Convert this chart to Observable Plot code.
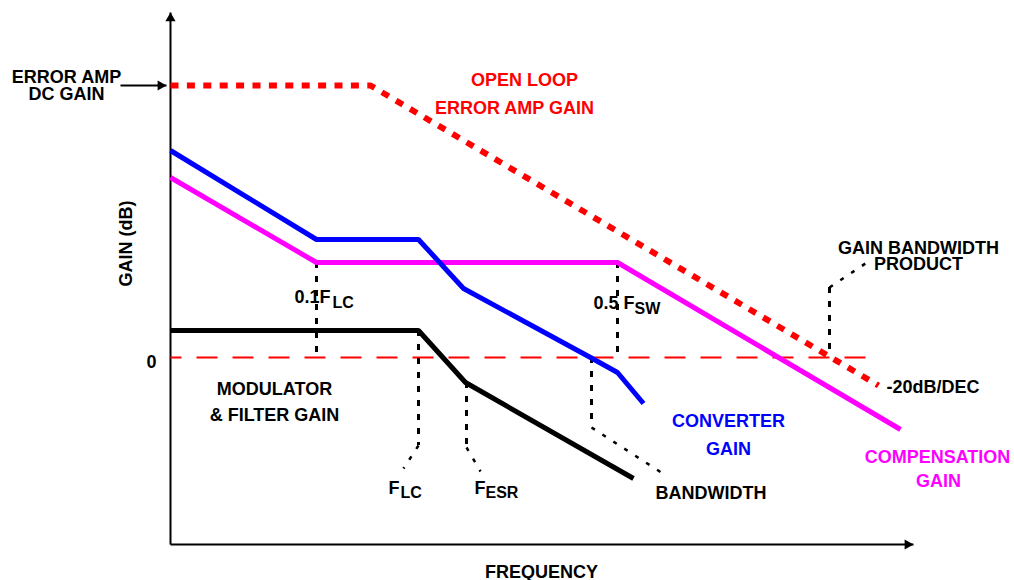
<!DOCTYPE html>
<html>
<head>
<meta charset="utf-8">
<script src="https://cdn.jsdelivr.net/npm/d3@7"></script>
<script src="https://cdn.jsdelivr.net/npm/@observablehq/plot@0.6"></script>
<style>
  html, body { margin: 0; padding: 0; background: #fff; overflow: hidden; }
</style>
</head>
<body>
<div id="chart"></div>
<script>
// Schematic Bode plot: x = log-frequency position (arbitrary decades), y = gain (dB)
const errorAmpF = [0, 2.0, 7.08];
const errorAmpG = [54.4, 54.4, -5.6];

const converterF = [0, 1.46, 2.48, 2.93, 4.2, 4.47, 4.73];
const converterG = [41.4, 23.6, 23.6, 13.8, 0, -3, -9.2];

const compensationF = [0, 1.46, 4.47, 7.30];
const compensationG = [36, 19, 19, -14.4];

const modulatorF = [0, 2.48, 2.95, 4.63];
const modulatorG = [5.4, 5.4, -5, -24.2];

const zeroLineF = [0, 6.95];

// Marker frequencies (0.1 FLC, FLC, FESR, bandwidth, 0.5 FSW, GBP)
const markerF = [1.46, 2.48, 2.96, 4.21, 4.47, 6.59];
const markerTop = [19, 5.4, -5, 0, 19, 14];
const markerBottom = [0, -17.6, -18, -14, 0, 1.4];

// Leader lines from markers to their labels
const leaderF1 = [2.48, 2.96, 4.21, 6.59];
const leaderG1 = [-17.6, -18, -14, 14];
const leaderF2 = [2.33, 3.10, 4.97, 6.95];
const leaderG2 = [-22.2, -22.8, -23.8, 18.8];

// Axis extents
const axisF = [0, 7.43];
const axisG = [-37.4, 69];

// Labels
const centerText = ["ERROR AMP", "DC GAIN", "MODULATOR", "& FILTER GAIN", "GAIN BANDWIDTH", "PRODUCT", "FREQUENCY", "0"];
const centerF = [-1.04, -1.04, 1.04, 1.04, 7.48, 7.48, 3.71, -0.19];
const centerG = [55, 51.6, -7.4, -12.6, 20.8, 17.6, -44, -2];

const startText = ["0.1F", "0.5 F", "F", "F", "BANDWIDTH", "-20dB/DEC"];
const startF = [1.24, 4.23, 2.18, 3.04, 4.85, 7.16];
const startG = [11, 9.8, -27.2, -27.2, -28.2, -7];

const subText = ["LC", "SW", "LC", "ESR"];
const subF = [1.62, 4.64, 2.30, 3.15];
const subG = [10, 8.8, -28, -28];

const redText = ["OPEN LOOP", "ERROR AMP GAIN"];
const redF = [3.54, 3.44];
const redG = [54.4, 48.8];

const blueText = ["CONVERTER", "GAIN"];
const blueF = [5.58, 5.58];
const blueG = [-13.8, -19.4];

const magentaText = ["COMPENSATION", "GAIN"];
const magentaF = [7.67, 7.68];
const magentaG = [-21, -25.8];

const yLabel = ["GAIN (dB)"];
const yLabelF = [-0.44];
const yLabelG = [22.8];

const dcArrowF = [-0.5, -0.04];
const dcArrowG = 54.4;

// ---- build tables ----
const pts = (fs, gs) => fs.map((f, i) => ({f, g: gs[i]}));
const labels = (ts, fs, gs) => ts.map((t, i) => ({t, f: fs[i], g: gs[i]}));

const errorAmp = pts(errorAmpF, errorAmpG);
const converter = pts(converterF, converterG);
const compensation = pts(compensationF, compensationG);
const modulator = pts(modulatorF, modulatorG);
const zeroLine = zeroLineF.map(f => ({f, g: 0}));
const markers = markerF.map((f, i) => ({f, top: markerTop[i], bottom: markerBottom[i]}));
const leaders = leaderF1.map((f, i) => ({f1: f, g1: leaderG1[i], f2: leaderF2[i], g2: leaderG2[i]}));

const font = "'Liberation Sans', Arial, Helvetica, sans-serif";
const textBase = {x: "f", y: "g", text: "t", fontSize: 18, fontWeight: "bold", lineAnchor: "bottom"};

const plot = Plot.plot({
  width: 1014,
  height: 580,
  margin: 0,
  x: {domain: [-1.7, 8.44], axis: null},
  y: {domain: [-44.6, 71.4], axis: null},
  style: {fontFamily: font, background: "white", color: "black"},
  marks: [
    // axes
    Plot.line(axisF.map(f => ({f, g: axisG[0]})), {x: "f", y: "g", stroke: "black", strokeWidth: 2, strokeLinecap: "butt"}),
    Plot.line(axisG.map(g => ({f: 0, g})), {x: "f", y: "g", stroke: "black", strokeWidth: 2, strokeLinecap: "butt"}),
    Plot.dot([{f: 0, g: axisG[1]}], {x: "f", y: "g", symbol: "triangle", r: 3.8, fill: "black", stroke: null, dy: 5.9}),
    Plot.dot([{f: axisF[1], g: axisG[0]}], {x: "f", y: "g", symbol: "triangle", r: 3.8, fill: "black", stroke: null, rotate: 90, dx: -5.9}),
    // DC gain arrow
    Plot.line(dcArrowF.map(f => ({f, g: dcArrowG})), {x: "f", y: "g", stroke: "black", strokeWidth: 2, strokeLinecap: "butt"}),
    Plot.dot([{f: dcArrowF[1], g: dcArrowG}], {x: "f", y: "g", symbol: "triangle", r: 3.8, fill: "black", stroke: null, rotate: 90, dx: -5.9}),
    // 0 dB dashed line
    Plot.line(zeroLine, {x: "f", y: "g", stroke: "#ff0000", strokeWidth: 2, strokeDasharray: "21,15", strokeDashoffset: 10, strokeLinecap: "butt"}),
    // marker dotted verticals
    Plot.ruleX(markers, {x: "f", y1: "top", y2: "bottom", stroke: "black", strokeWidth: 3, strokeDasharray: "6,8"}),
    Plot.link(leaders, {x1: "f1", y1: "g1", x2: "f2", y2: "g2", stroke: "black", strokeWidth: 2.5, strokeDasharray: "4,9", strokeLinecap: "butt"}),
    // curves
    Plot.line(modulator, {x: "f", y: "g", stroke: "black", strokeWidth: 5, strokeLinecap: "butt", strokeLinejoin: "miter"}),
    Plot.line(compensation, {x: "f", y: "g", stroke: "#ff00ff", strokeWidth: 5, strokeLinecap: "butt", strokeLinejoin: "miter"}),
    Plot.line(converter, {x: "f", y: "g", stroke: "#0000ff", strokeWidth: 5, strokeLinecap: "butt", strokeLinejoin: "miter"}),
    Plot.line(errorAmp, {x: "f", y: "g", stroke: "#ff0000", strokeWidth: 6, strokeDasharray: "8,8.4", strokeLinecap: "butt"}),
    // labels
    Plot.text(labels(centerText, centerF, centerG), {...textBase, textAnchor: "middle", fill: "black"}),
    Plot.text(labels(startText, startF, startG), {...textBase, textAnchor: "start", fill: "black"}),
    Plot.text(labels(subText, subF, subG), {...textBase, fontSize: 16, textAnchor: "start", fill: "black"}),
    Plot.text(labels(redText, redF, redG), {...textBase, textAnchor: "middle", fill: "#ff0000"}),
    Plot.text(labels(blueText, blueF, blueG), {...textBase, textAnchor: "middle", fill: "#0000ff"}),
    Plot.text(labels(magentaText, magentaF, magentaG), {...textBase, textAnchor: "middle", fill: "#ff00ff"}),
    Plot.text(labels(yLabel, yLabelF, yLabelG), {x: "f", y: "g", text: "t", fontSize: 18, fontWeight: "bold", rotate: -90, textAnchor: "middle", lineAnchor: "middle", fill: "black"})
  ]
});
document.getElementById("chart").appendChild(plot);
</script>
</body>
</html>
